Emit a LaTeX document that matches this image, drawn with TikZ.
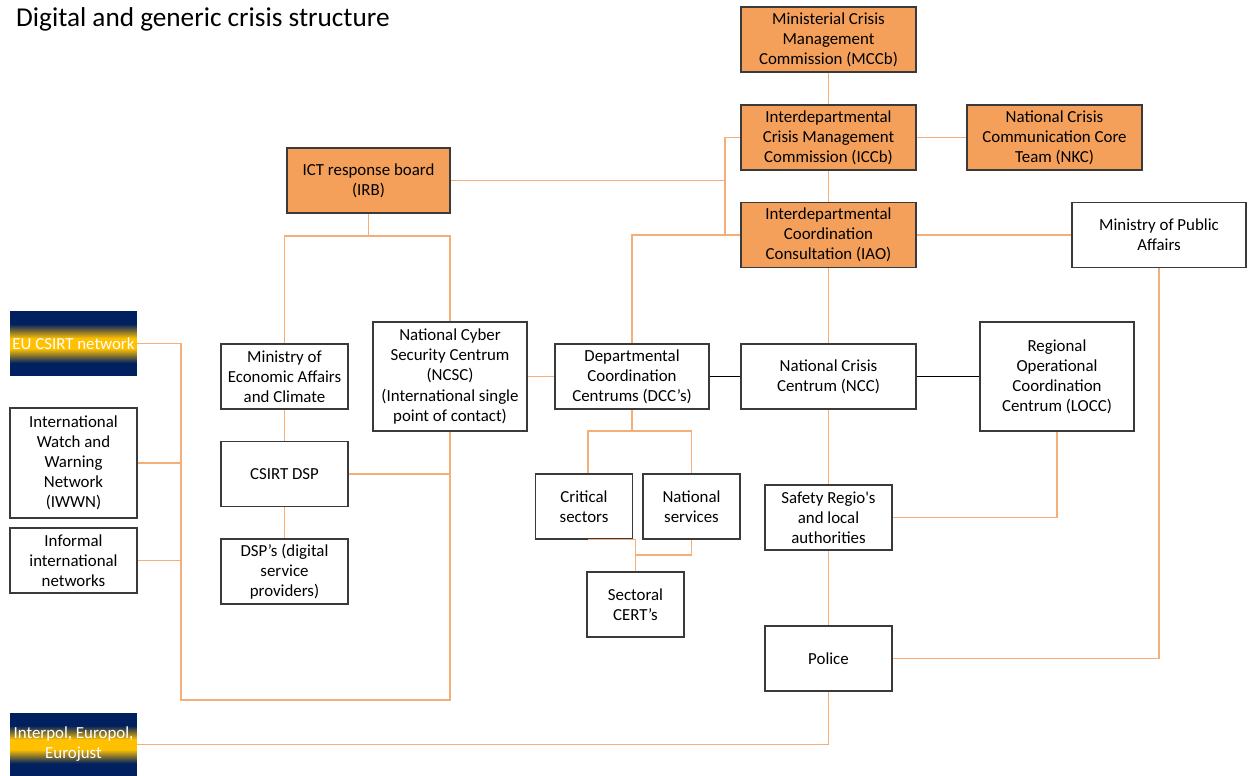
\documentclass[tikz,border=0pt]{standalone}
\usepackage{fontspec}
\setmainfont{Carlito}[Ligatures=TeXOff]
\usepackage{xcolor}
\usepackage{tikz}
\usetikzlibrary{calc}
\definecolor{crisisorange}{HTML}{F4A05A}
\definecolor{linkorange}{HTML}{F5AE78}
\definecolor{boxedge}{HTML}{3A3A3A}
\definecolor{eunavy}{HTML}{002060}
\definecolor{euyellow}{HTML}{FFC000}
\pgfdeclareverticalshading{eustripe}{100bp}{color(0bp)=(eunavy); color(35bp)=(eunavy); color(46bp)=(euyellow); color(54bp)=(euyellow); color(65bp)=(eunavy); color(100bp)=(eunavy)}

\begin{document}
\begin{tikzpicture}[
  x=0.02cm,y=-0.02cm,
  font=\fontsize{9.6}{11.4}\selectfont,
  unit/.style={draw=boxedge,line width=0.7pt,fill=white,align=center,inner sep=1pt,minimum height=1.3cm},
  crisis/.style={unit,fill=crisisorange},
  intl/.style={align=center,inner sep=1pt,text=white,shading=eustripe,minimum width=2.54cm,minimum height=1.3cm},
  link/.style={draw=linkorange,line width=0.6pt},
  hard/.style={draw=black,line width=0.6pt}
]
\useasboundingbox (0,0) rectangle (1249,776);
\node[anchor=west,font=\fontsize{15.5}{18}\selectfont] (title) at (10,19) {Digital and generic crisis structure};

% national crisis bodies
\node[crisis,minimum width=3.5cm] (mccb) at (828.5,39.5) {Ministerial Crisis\\Management\\Commission (MCCb)};
\node[crisis,minimum width=3.5cm] (iccb) at (828.5,137.5) {Interdepartmental\\Crisis Management\\Commission (ICCb)};
\node[crisis,minimum width=3.5cm] (nkc) at (1054.5,137.5) {National Crisis\\Communication Core\\Team (NKC)};
\node[crisis,minimum width=3.5cm] (iao) at (828.5,235) {Interdepartmental\\Coordination\\Consultation (IAO)};
\node[crisis,minimum width=3.26cm] (irb) at (368.5,180.5) {ICT response board\\(IRB)};
\node[unit,minimum width=3.48cm] (mpa) at (1159,235) {Ministry of Public\\Affairs};

% middle row
\node[unit,minimum width=2.54cm] (mea) at (284.5,376.5) {Ministry of\\Economic Affairs\\and Climate};
\node[unit,minimum width=3.08cm,minimum height=2.18cm] (ncsc) at (450,376.5) {National Cyber\\Security Centrum\\(NCSC)\\(International single\\point of contact)};
\node[unit,minimum width=3.08cm] (dcc) at (632,376.5) {Departmental\\Coordination\\Centrums (DCC’s)};
\node[unit,minimum width=3.5cm] (ncc) at (828.5,376.5) {National Crisis\\Centrum (NCC)};
\node[unit,minimum width=3.08cm,minimum height=2.18cm] (locc) at (1057,376.5) {Regional\\Operational\\Coordination\\Centrum (LOCC)};

% lower boxes
\node[unit,minimum width=2.54cm] (csirt) at (284.5,474) {CSIRT DSP};
\node[unit,minimum width=2.54cm] (dsp) at (284.5,571.5) {DSP’s (digital\\service\\providers)};
\node[unit,minimum width=1.94cm] (crit) at (584,506.5) {Critical\\sectors};
\node[unit,minimum width=1.94cm] (natsvc) at (691.5,506.5) {National\\services};
\node[unit,minimum width=1.94cm] (cert) at (635.5,604.5) {Sectoral\\CERT’s};
\node[unit,minimum width=2.54cm] (safety) at (828.5,517.5) {Safety Regio's\\and local\\authorities};
\node[unit,minimum width=2.54cm] (police) at (828.5,658.5) {Police};

% international networks
\node[intl] (eu) at (73.5,343.5) {EU CSIRT network};
\node[unit,minimum width=2.54cm,minimum height=2.2cm] (iwwn) at (73.5,463) {International\\Watch and\\Warning\\Network\\(IWWN)};
\node[unit,minimum width=2.54cm] (informal) at (73.5,560.5) {Informal\\international\\networks};
\node[intl,minimum height=1.26cm] (interpol) at (73.5,744.5) {Interpol, Europol,\\Eurojust};

% junctions
\coordinate (hub) at (725,235);
\coordinate (irbfork) at (368.5,236);
\coordinate (dccfork) at (632,431);
\coordinate (certjoin) at (636,555);
\coordinate (loopr) at (450,700);
\coordinate (loopl) at (181,700);

% connectors
\draw[link] (mccb) -- (iccb);
\draw[link] (iccb) -- (iao);
\draw[link] (iccb) -- (nkc);
\draw[link] (iccb.west) -| (hub) -- (iao.west);
\draw[link] (irb.east) -- (irb.east -| hub);
\draw[link] (hub) -| (dcc.north);
\draw[link] (iao) -- (mpa);
\draw[link] (iao) -- (ncc);
\draw[hard] (dcc) -- (ncc);
\draw[hard] (ncc) -- (locc);
\draw[link] (ncc) -- (safety);
\draw[link] (locc.south) |- (safety.east);
\draw[link] (safety) -- (police);
\draw[link] (mpa.south) |- (police.east);
\draw[link] (police.south) |- (interpol.east);
\draw[link] (dcc.south) -- (dccfork);
\draw[link] ($(crit.north)+(4,0)$) |- (dccfork) -| (natsvc.north);
\draw[link] ($(crit.south)+(4,0)$) -| (cert.north);
\draw[link] (natsvc.south) |- (certjoin);
\draw[link] (irb) -- (irbfork);
\draw[link] (mea.north) |- (irbfork) -| (ncsc.north);
\draw[link] (mea) -- (csirt);
\draw[link] (csirt) -- (dsp);
\draw[link] (ncsc) -- (dcc);
\draw[link] (ncsc.south) -- (loopr) -- (loopl) |- (eu.east);
\draw[link] (csirt.east) -- (csirt.east -| loopr);
\draw[link] (iwwn.east) -- (iwwn.east -| loopl);
\draw[link] (informal.east) -- (informal.east -| loopl);
\end{tikzpicture}
\end{document}
